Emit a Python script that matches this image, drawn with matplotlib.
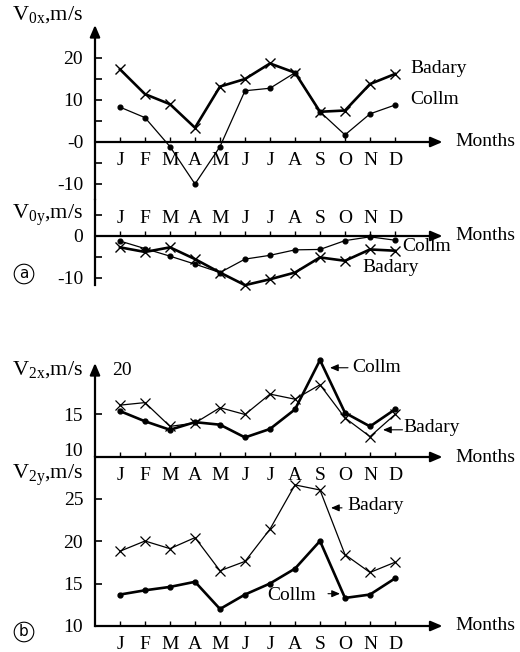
import matplotlib
matplotlib.use('Agg')
import matplotlib.pyplot as plt

# month axis
months = ['J', 'F', 'M', 'A', 'M', 'J', 'J', 'A', 'S', 'O', 'N', 'D']
x = list(range(12))

# panel a: prevailing wind components V0x, V0y (m/s)
v0x_badary = [17.3, 11.4, 9.0, 3.4, 13.2, 15.0, 18.7, 16.5, 7.2, 7.5, 13.8, 16.2]
v0x_collm = [8.3, 5.8, -1.1, -10.0, -1.1, 12.2, 12.8, 16.5, 7.2, 1.7, 6.7, 8.8]
v0y_badary = [-2.7, -3.8, -2.7, -5.5, -8.7, -11.7, -10.3, -8.7, -5.1, -5.9, -3.2, -3.5]
v0y_collm = [-1.2, -3.0, -4.8, -6.7, -8.7, -5.5, -4.6, -3.3, -3.2, -1.1, -0.2, -1.0]

# panel b: semidiurnal tide amplitudes V2x, V2y (m/s)
v2x_badary = [16.1, 16.4, 13.6, 14.0, 15.8, 15.0, 17.4, 16.8, 18.5, 14.6, 12.4, 15.0]
v2x_collm = [15.4, 14.2, 13.2, 14.1, 13.8, 12.3, 13.3, 15.6, 21.4, 15.2, 13.6, 15.6]
v2y_badary = [18.8, 20.0, 19.1, 20.4, 16.5, 17.6, 21.4, 26.6, 26.0, 18.4, 16.3, 17.5]
v2y_collm = [13.7, 14.2, 14.6, 15.2, 12.0, 13.7, 15.0, 16.75, 20.0, 13.3, 13.7, 15.6]

plt.rcParams['font.family'] = 'Liberation Serif'
plt.rcParams['mathtext.fontset'] = 'custom'
plt.rcParams['mathtext.rm'] = 'Liberation Serif'
plt.rcParams['mathtext.it'] = 'Liberation Serif:italic'
plt.rcParams['font.size'] = 14

W, H = 520, 652
fig = plt.figure(figsize=(W / 100, H / 100), dpi=100)

AX_L, AX_R = 95, 445


def add_panel(top, bottom, zero_px, zero_val, ppu):
    # axes placed in pixel units, y limits from the pixel scale
    ax = fig.add_axes([AX_L / W, 1 - bottom / H, (AX_R - AX_L) / W, (bottom - top) / H])
    ax.set_xlim(-1, 13)
    ax.set_ylim(zero_val - (bottom - zero_px) / ppu, zero_val + (zero_px - top) / ppu)
    ax.patch.set_visible(False)
    for s in ax.spines.values():
        s.set_visible(False)
    ax.tick_params(axis='y', direction='in', length=5, width=1.2, pad=8.5, labelsize=14)
    ax.tick_params(axis='y', which='minor', direction='in', length=5, width=1.2)
    return ax


def arrow(ax, start, end, coords='data', lw=1.6, scale=10):
    ax.annotate('', xy=end, xytext=start, xycoords=coords, textcoords=coords,
                arrowprops=dict(arrowstyle='-|>,head_length=0.7,head_width=0.3', lw=lw,
                                color='black', shrinkA=0, shrinkB=0, mutation_scale=scale),
                annotation_clip=False)


def month_ticks(ax, y0, top=False, pad=8):
    ax.set_xticks(x, months)
    if top:
        ax.xaxis.set_ticks_position('top')
        ax.spines['top'].set_position(('data', y0))
        ax.tick_params(axis='x', direction='out', length=3.5, width=1.0, pad=pad, labelsize=14)
    else:
        ax.spines['bottom'].set_position(('data', y0))
        ax.tick_params(axis='x', direction='in', length=3.5, width=1.0, pad=pad, labelsize=14)
    arrow(ax, (-1, y0), (12.9, y0))
    ax.text(13.4, y0, 'Months', ha='left', va='center', fontsize=14)


def thick(ax, y, marker, ms):
    ax.plot(x, y, color='black', lw=1.9, marker=marker, ms=ms, mew=1.0, clip_on=False)


def thin(ax, y, marker, ms):
    ax.plot(x, y, color='black', lw=0.9, marker=marker, ms=ms, mew=0.9, clip_on=False)


def fig_text(px, py, s, **kw):
    fig.text(px / W, 1 - py / H, s, **kw)


# ---- panel a, V0x
ax1 = add_panel(25, 200, 142, 0, 4.2)
arrow(ax1, (0, 0), (0, 1), coords='axes fraction')
ax1.set_yticks([20, 10, 0, -10], ['20', '10', '-0', '-10'])
ax1.set_yticks([15, 5, -5], minor=True)
month_ticks(ax1, 0, pad=7)
thick(ax1, v0x_badary, 'x', 6.5)
thin(ax1, v0x_collm, 'o', 3.5)
ax1.text(11.6, 17.6, 'Badary', ha='left', va='center')
ax1.text(11.6, 10.0, 'Collm', ha='left', va='center')

# ---- panel a, V0y
ax2 = add_panel(200, 285, 236, 0, 4.2)
ax2.spines['left'].set_visible(True)
ax2.spines['left'].set_linewidth(1.6)
ax2.set_yticks([0, -10], ['0', '-10'])
ax2.set_yticks([5, -5], minor=True)
month_ticks(ax2, 0, top=True, pad=3)
thick(ax2, v0y_badary, 'x', 6.5)
thin(ax2, v0y_collm, 'o', 3.5)
ax2.text(11.3, -2.6, 'Collm', ha='left', va='center')
ax2.text(9.7, -7.4, 'Badary', ha='left', va='center')

# ---- panel b, V2x
ax3 = add_panel(363, 457, 457, 10, 8.5)
arrow(ax3, (0, 0), (0, 1), coords='axes fraction')
ax3.set_yticks([15], ['15'])
month_ticks(ax3, 10, pad=7)
thin(ax3, v2x_badary, 'x', 6.5)
thick(ax3, v2x_collm, 'o', 3.5)
ax3.text(-0.32, 20.2, '20', ha='left', va='center')
ax3.text(9.28, 20.5, 'Collm', ha='left', va='center')
arrow(ax3, (9.12, 20.5), (8.4, 20.5), lw=0.8, scale=7)
ax3.text(11.32, 13.5, 'Badary', ha='left', va='center')
arrow(ax3, (11.3, 13.2), (10.52, 13.2), lw=0.8, scale=7)

# ---- panel b, V2y
ax4 = add_panel(457, 626, 626, 10, 8.5)
ax4.spines['left'].set_visible(True)
ax4.spines['left'].set_linewidth(1.6)
ax4.set_yticks([25, 20, 15, 10], ['25', '20', '15', '10'])
month_ticks(ax4, 10, pad=7)
thin(ax4, v2y_badary, 'x', 6.5)
thick(ax4, v2y_collm, 'o', 3.5)
ax4.text(9.08, 24.2, 'Badary', ha='left', va='center')
arrow(ax4, (8.88, 23.9), (8.44, 23.9), lw=0.8, scale=7)
ax4.text(7.84, 13.6, 'Collm', ha='right', va='center')
arrow(ax4, (8.32, 13.8), (8.8, 13.8), lw=0.8, scale=7)

# axis titles
fig_text(83, 456, '10', ha='right', va='baseline', fontsize=14)
fig_text(83, 15, r'V$_{\mathrm{0x}}$,m/s', ha='right', va='center', fontsize=16)
fig_text(83, 215, r'V$_{\mathrm{0y}}$,m/s', ha='right', va='center', fontsize=16)
fig_text(83, 370, r'V$_{\mathrm{2x}}$,m/s', ha='right', va='center', fontsize=16)
fig_text(83, 475, r'V$_{\mathrm{2y}}$,m/s', ha='right', va='center', fontsize=16)

# panel letters
circ = dict(boxstyle='circle,pad=0.15', fc='white', ec='black', lw=0.8)
fig_text(24, 274, 'a', ha='center', va='center', fontsize=11, family='DejaVu Sans', bbox=circ)
fig_text(24, 632, 'b', ha='center', va='center', fontsize=11, family='DejaVu Sans', bbox=circ)

fig.savefig('out.png', dpi=100)
